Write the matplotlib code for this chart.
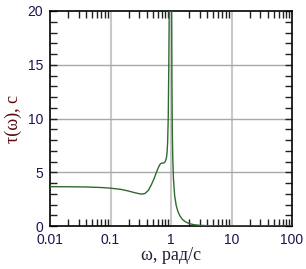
import matplotlib
matplotlib.use("Agg")
import matplotlib.pyplot as plt
from matplotlib.ticker import LogLocator, MultipleLocator, FixedLocator, FixedFormatter, NullFormatter

omega = [0.01, 0.02, 0.04, 0.07, 0.1, 0.15, 0.2, 0.25, 0.3, 0.33, 0.37, 0.42, 0.47, 0.52,
         0.57, 0.62, 0.66, 0.70, 0.74, 0.78, 0.81, 0.84, 0.86, 0.88, 0.90, 0.92, 0.935, 0.95,
         0.97, 1.0, 1.02, 1.035, 1.05, 1.07, 1.1, 1.15, 1.22, 1.3, 1.4, 1.55, 1.75, 2.0,
         2.4, 3.0, 4.0, 6.0, 10.0, 30.0, 100.0]
tau = [3.66, 3.65, 3.63, 3.58, 3.52, 3.40, 3.25, 3.10, 3.00, 2.97, 3.02, 3.30, 3.80, 4.35,
       4.95, 5.45, 5.75, 5.85, 5.85, 5.90, 6.05, 6.35, 6.8, 7.8, 10.0, 15.0, 20.0, 28.0,
       40.0, 40.0, 25.0, 14.0, 9.0, 6.3, 4.3, 2.8, 1.9, 1.35, 0.95, 0.6, 0.38, 0.22,
       0.12, 0.06, 0.03, 0.01, 0.0, 0.0, 0.0]

xtick_vals = [0.01, 0.1, 1, 10, 100]
xtick_labels = ["0.01", "0.1", "1", "10", "100"]
ytick_vals = [0, 5, 10, 15, 20]
ytick_labels = ["0", "5", "10", "15", "20"]

fig = plt.figure(figsize=(3.06, 2.69), dpi=100)
ax = fig.add_axes([50/306, 43/269, 242/306, 215/269])

ax.set_xscale("log")
ax.set_xlim(0.01, 100)
ax.set_ylim(0, 20)

# grid
for xv in [0.1, 1, 10]:
    ax.axvline(xv, color="#c8c8c8", lw=1.5, zorder=1)
for yv in [5, 10, 15]:
    ax.axhline(yv, color="#a8a8a8", lw=1.0, zorder=1)

ax.plot(omega, tau, color="#2e6b2e", lw=1.0, zorder=3, clip_on=True)

ax.xaxis.set_major_locator(FixedLocator(xtick_vals))
ax.xaxis.set_major_formatter(FixedFormatter(xtick_labels))
ax.xaxis.set_minor_locator(LogLocator(base=10, subs=range(2, 10)))
ax.xaxis.set_minor_formatter(NullFormatter())
ax.yaxis.set_major_locator(FixedLocator(ytick_vals))
ax.yaxis.set_major_formatter(FixedFormatter(ytick_labels))
ax.yaxis.set_minor_locator(MultipleLocator(1))

ax.tick_params(which="both", direction="in", top=True, right=True, color="#202020", width=1.0)
ax.tick_params(which="major", length=5)
ax.tick_params(which="minor", length=5)
ax.tick_params(axis="x", which="major", length=0)
ax.tick_params(which="major", labelsize=10, labelcolor="#1c1450")
ax.tick_params(axis="x", which="major", pad=5)
ax.tick_params(axis="y", which="major", pad=5)
for lab in ax.get_xticklabels() + ax.get_yticklabels():
    lab.set_family("Liberation Sans")

for s in ax.spines.values():
    s.set_linewidth(1.2)
    s.set_color("#000000")

ax.set_xlabel("ω, рад/с", family="Liberation Serif", fontsize=13, color="#2a1a3a", labelpad=0)
ax.set_ylabel("τ(ω), с", family="Liberation Serif", fontsize=13, color="#5a0a10", labelpad=4)

fig.savefig("out.png", dpi=100)
